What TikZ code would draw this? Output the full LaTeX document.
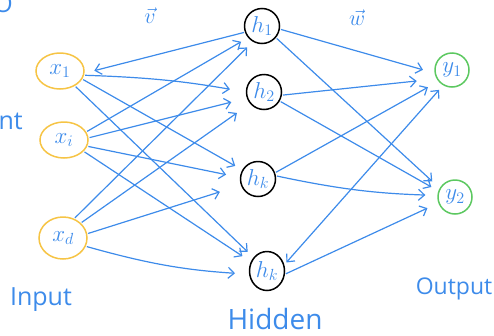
\RequirePackage{fix-cm}
\documentclass[tikz,border=0pt]{standalone}
\usepackage{fontspec}
\newfontfamily\hand{Open Sans}
\usetikzlibrary{arrows.meta,shapes.geometric}
\definecolor{pen}{HTML}{3D8BEA}
\definecolor{inyel}{HTML}{F6C445}
\definecolor{outgrn}{HTML}{5CC860}
\begin{document}
\begin{tikzpicture}[x=1pt,y=-1pt,
  conn/.style={draw=pen, line width=1.2pt, -{Straight Barb[length=6pt,width=11pt]}, shorten <=1pt},
  both/.style={draw=pen, line width=1.2pt, {Straight Barb[length=6pt,width=11pt]}-{Straight Barb[length=6pt,width=11pt]}},
  neuron/.style={ellipse, line width=1.5pt, inner sep=0pt, text=pen, font=\fontsize{23}{23}\selectfont},
  inp/.style={neuron, draw=inyel, minimum width=48pt, minimum height=36pt},
  hid/.style={neuron, draw=black, minimum width=35pt, minimum height=35pt},
  outp/.style={neuron, draw=outgrn, minimum width=34pt, minimum height=34pt},
  vlab/.style={text=pen, font=\fontsize{22}{22}\selectfont, inner sep=0pt},
  caption/.style={text=pen, font=\hand\fontsize{25}{25}\selectfont, inner sep=0pt}
]
\useasboundingbox (0,0) rectangle (494,335);
\begin{scope}
\clip (0,0) rectangle (494,335);
\node[caption, anchor=east] (frag1) at (23,121) {nt};
\node[caption, anchor=east] (frag2) at (13,4) {O};
\end{scope}
% nodes
\node[inp] (x1) at (60,71) {$x_1$};
\node[inp] (xi) at (64,140) {$x_i$};
\node[inp, minimum height=42pt] (xd) at (63,238) {$x_d$};
\node[hid] (h1) at (262,26) {$h_1$};
\node[hid] (h2) at (264,92) {$h_2$};
\node[hid] (hk) at (258,179) {$h_k$};
\node[hid, minimum height=39pt] (hK) at (267,271) {$h_k$};
\node[outp] (y1) at (452,70) {$y_1$};
\node[outp] (y2) at (455,197) {$y_2$};
% labels
\node[vlab] (v) at (150,16) {$\vec{v}$};
\node[vlab] (w) at (357,18) {$\vec{w}$};
\node[caption] (lin) at (41,300) {Input};
\node[caption, font=\hand\fontsize{28}{28}\selectfont] (lhid) at (275,319) {Hidden};
\node[caption, font=\hand\fontsize{23}{23}\selectfont] (lout) at (454,289) {Output};
% input -> hidden
\draw[conn, shorten >=10pt] (h1.200) -- (x1.-5);
\draw[conn, shorten >=16pt] (x1.-10) to[bend left=4] (h2.west);
\draw[conn, shorten >=8pt] (x1.-20) -- (hk.150);
\draw[conn, shorten >=8pt] (x1.-45) -- (hK.135);
\draw[conn, shorten >=8pt] (xi.20) -- (h1.220);
\draw[conn, shorten >=16pt] (xi.5) -- (h2.200);
\draw[conn, shorten >=14pt] (xi.-15) -- (hk.175);
\draw[conn, shorten >=10pt] (xi.-30) -- (hK.150);
\draw[conn, shorten >=8pt] (xd.60) -- (h1.240);
\draw[conn, shorten >=16pt] (xd.40) -- (h2.220);
\draw[conn, shorten >=22pt] (xd.10) -- (hk.200);
\draw[conn, shorten >=14pt] (xd.-20) to[bend right=6] (hK.190);
% hidden -> output
\draw[conn, shorten >=12pt] (h1.-10) -- (y1.190);
\draw[conn, shorten >=10pt] (h1.-40) -- (y2.150);
\draw[conn, shorten >=20pt] (h2.-10) -- (y1.210);
\draw[conn, shorten >=8pt] (h2.-30) -- (y2.160);
\draw[conn, shorten >=12pt] (hk.20) -- (y1.220);
\draw[conn, shorten >=12pt] (hk.10) to[bend right=5] (y2.175);
\draw[both, shorten >=6pt, shorten <=3pt] (hK.20) -- (y1.240);
\draw[conn, shorten >=12pt] (hK.-10) -- (y2.200);
\end{tikzpicture}
\end{document}
